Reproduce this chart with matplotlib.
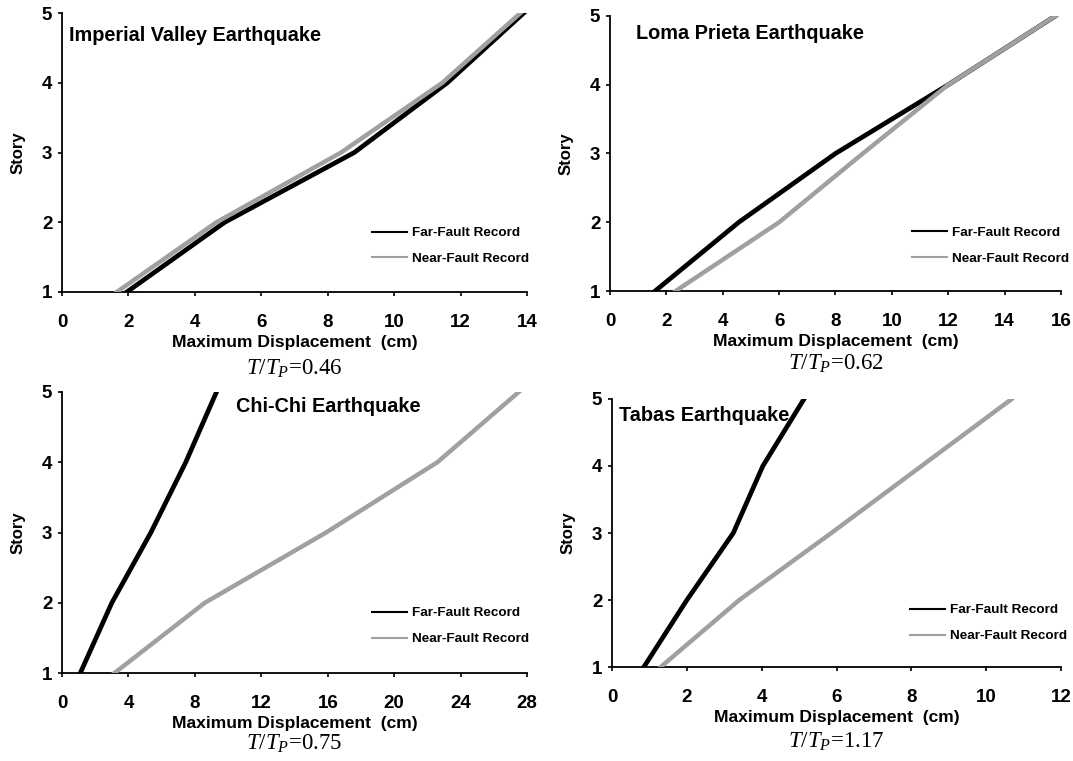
import matplotlib
matplotlib.use('Agg')
import matplotlib.pyplot as plt

plt.rcParams['font.family'] = 'Liberation Sans'
plt.rcParams['mathtext.fontset'] = 'custom'
plt.rcParams['mathtext.rm'] = 'Liberation Serif'
plt.rcParams['mathtext.it'] = 'Liberation Serif:italic'

stories = [1, 2, 3, 4, 5]

# максимальные перемещения по этажам (см)
imperial_far = [1.95, 4.9, 8.8, 11.6, 13.9]
imperial_near = [1.65, 4.65, 8.4, 11.45, 13.8]
loma_far = [1.6, 4.57, 8.0, 12.0, 15.8]
loma_near = [2.33, 6.0, 8.97, 12.0, 15.8]
chichi_far = [1.1, 3.0, 5.35, 7.45, 9.3]
chichi_near = [3.16, 8.6, 15.9, 22.6, 27.5]
tabas_far = [0.85, 2.0, 3.24, 4.03, 5.13]
tabas_near = [1.3, 3.4, 5.86, 8.27, 10.68]

titles = ['Imperial Valley Earthquake', 'Loma Prieta Earthquake',
          'Chi-Chi Earthquake', 'Tabas Earthquake']
ratios = ['0.46', '0.62', '0.75', '1.17']
x_max = [14, 16, 28, 12]
x_step = [2, 2, 4, 2]
far_series = [imperial_far, loma_far, chichi_far, tabas_far]
near_series = [imperial_near, loma_near, chichi_near, tabas_near]

# позиции осей [left, bottom, width, height]
positions = [[0.0578, 0.6163, 0.4334, 0.3666],
             [0.5685, 0.6176, 0.4203, 0.3614],
             [0.0578, 0.1156, 0.4334, 0.3693],
             [0.5704, 0.1235, 0.4185, 0.3522]]
title_pos = [(0.015, 0.918), (0.058, 0.938), (0.374, 0.947), (0.016, 0.94)]
legend_pos = [(0.667, 0.165), (0.670, 0.164), (0.667, 0.167), (0.664, 0.164)]
ratio_y = [-0.276, -0.265, -0.252, -0.279]

fig = plt.figure(figsize=(10.73, 7.61), dpi=100)

for i in range(4):
    ax = fig.add_axes(positions[i])
    ax.plot(far_series[i], stories, color='black', lw=3.4, label='Far-Fault Record',
            solid_joinstyle='round', zorder=3)
    ax.plot(near_series[i], stories, color='#a0a0a0', lw=3.2, label='Near-Fault Record',
            solid_joinstyle='round', zorder=3)
    ax.set_xlim(0, x_max[i])
    ax.set_ylim(1, 5)
    ax.set_xticks(range(0, x_max[i] + 1, x_step[i]))
    ax.set_yticks(stories)
    for s in ['top', 'right']:
        ax.spines[s].set_visible(False)
    ax.spines['left'].set_linewidth(1.3)
    ax.spines['bottom'].set_linewidth(1.3)
    ax.tick_params(axis='x', direction='out', length=3, width=1.2, pad=13, labelsize=13.5)
    ax.tick_params(axis='y', direction='out', length=3, width=1.2, pad=4, labelsize=13.5)
    for lab in ax.get_xticklabels() + ax.get_yticklabels():
        lab.set_fontweight('bold')
    ax.set_xlabel('Maximum Displacement  (cm)', fontsize=12.6, fontweight='bold', labelpad=3)
    ax.set_ylabel('Story', fontsize=12, fontweight='bold', labelpad=12)
    ax.text(title_pos[i][0], title_pos[i][1], titles[i], transform=ax.transAxes,
            fontsize=14.3, fontweight='bold', ha='left', va='center')
    ax.text(0.5, ratio_y[i], r'$T/T_P$=' + ratios[i], transform=ax.transAxes,
            fontsize=16.5, family='Liberation Serif', ha='center', va='center')
    leg = ax.legend(loc='center left', bbox_to_anchor=legend_pos[i], frameon=False,
                    borderpad=0, borderaxespad=0,
                    prop={'size': 9.7, 'weight': 'bold'}, handlelength=2.6,
                    handletextpad=0.37, labelspacing=1.0)
    for line in leg.get_lines():
        line.set_linewidth(1.5)

fig.savefig('out.png', dpi=100)
